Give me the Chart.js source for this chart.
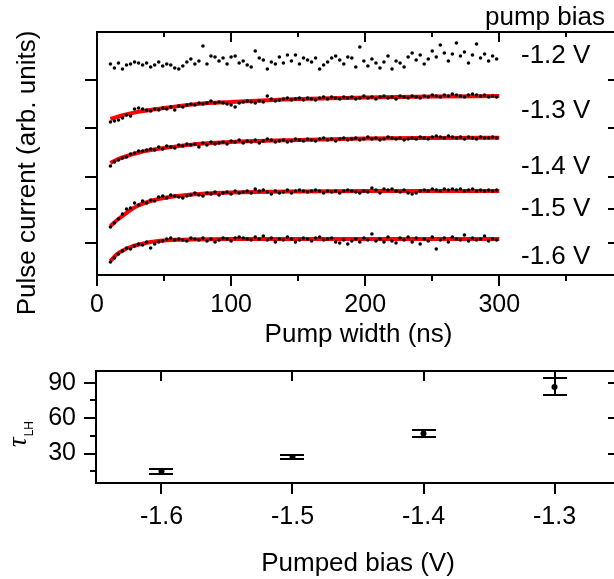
<!DOCTYPE html>
<html>
<head>
<meta charset="utf-8">
<script src="https://cdn.jsdelivr.net/npm/chart.js@4.4.1/dist/chart.umd.min.js"></script>
<style>
  html, body { margin: 0; padding: 0; background: #fff; overflow: hidden; width: 614px; height: 579px; }
  canvas { position: absolute; left: 0; }
  #widthChart { top: 0; }
  #biasChart { top: 350px; }
</style>
</head>
<body>
<canvas id="widthChart" width="640" height="350"></canvas>
<canvas id="biasChart" width="640" height="229"></canvas>
<script>
const FONT = "'Liberation Sans', Arial, sans-serif";

// ---- top panel: pulse current vs pump width (arb. units, offset per bias) ----
const pumpWidth = [
  10, 13, 16, 19, 22, 25, 28, 31, 34, 37,
  40, 43, 46, 49, 52, 55, 58, 61, 64, 67,
  70, 73, 76, 79, 82, 85, 88, 91, 94, 97,
  100, 103, 106, 109, 112, 115, 118, 121, 124, 127,
  130, 133, 136, 139, 142, 145, 148, 151, 154, 157,
  160, 163, 166, 169, 172, 175, 178, 181, 184, 187,
  190, 193, 196, 199, 202, 205, 208, 211, 214, 217,
  220, 223, 226, 229, 232, 235, 238, 241, 244, 247,
  250, 253, 256, 259, 262, 265, 268, 271, 274, 277,
  280, 283, 286, 289, 292, 295, 298
];
const pulse12 = [
  211, 207, 212, 206, 210, 211, 213, 212, 210, 212,
  208, 210, 213, 209, 211, 210, 207, 206, 209, 213,
  216, 211, 214, 229, 211, 219, 218, 214, 217, 211,
  218, 219, 212, 214, 210, 208, 224, 217, 215, 206,
  213, 211, 218, 212, 220, 214, 220, 211, 217, 215,
  213, 217, 206, 210, 213, 217, 219, 215, 211, 218,
  217, 208, 228, 214, 209, 216, 212, 207, 213, 219,
  206, 214, 212, 208, 218, 222, 215, 220, 211, 216,
  224, 218, 230, 222, 214, 221, 232, 219, 223, 212,
  220, 231, 217, 221, 214, 219, 216
];
const pulse13 = [
  153, 154, 155, 157, 160, 159, 166, 167, 166, 165,
  164, 166, 165, 167, 166, 168, 165, 169, 168, 170,
  171, 170, 172, 171, 172, 174, 172, 173, 172, 171,
  170, 168, 172, 173, 174, 173, 172, 174, 173, 179,
  176, 174, 175, 176, 177, 175, 176, 177, 175, 177,
  176, 175, 177, 178, 176, 178, 177, 176, 178, 177,
  178, 176, 177, 179, 177, 178, 176, 178, 179, 177,
  178, 176, 179, 178, 177, 179, 178, 177, 179, 178,
  180, 179, 178, 180, 179, 181, 180, 179, 178, 180,
  181, 180, 179, 180, 178, 179, 178
];
const pulse14 = [
  109, 113, 115, 117, 118, 121, 122, 124, 124, 125,
  126, 125, 128, 126, 129, 128, 127, 130, 129, 131,
  130, 131, 128, 132, 130, 133, 131, 132, 133, 131,
  134, 133, 135, 132, 134, 133, 135, 132, 134, 136,
  135, 133, 134, 135, 133, 134, 136, 135, 134, 136,
  135, 134, 136, 137, 135, 136, 134, 136, 137, 135,
  136, 137, 135, 136, 138, 136, 137, 135, 136, 138,
  137, 136, 137, 135, 136, 137, 136, 138, 137, 136,
  138, 139, 138, 137, 139, 138, 137, 138, 136, 138,
  137, 136, 138, 137, 137, 138, 137
];
const pulse15 = [
  48, 52, 56, 61, 66, 67, 72, 70, 74, 72,
  75, 74, 78, 79, 77, 80, 79, 78, 77, 79,
  80, 82, 80, 79, 82, 81, 83, 80, 82, 83,
  81, 84, 82, 83, 84, 82, 86, 84, 85, 83,
  81, 84, 82, 83, 85, 82, 84, 85, 84, 83,
  84, 85, 84, 82, 84, 83, 84, 82, 84, 85,
  84, 83, 82, 84, 83, 87, 85, 82, 86, 85,
  86, 84, 83, 85, 82, 81, 82, 84, 85, 84,
  86, 85, 84, 86, 85, 86, 85, 86, 84, 85,
  86, 84, 85, 84, 85, 84, 85
];
const pulse16 = [
  13, 17, 21, 24, 27, 26, 29, 31, 30, 33,
  27, 31, 33, 34, 36, 37, 35, 36, 35, 34,
  37, 36, 35, 37, 34, 36, 33, 35, 37, 36,
  34, 37, 38, 37, 36, 35, 38, 36, 39, 35,
  37, 33, 36, 35, 38, 36, 33, 35, 37, 36,
  34, 37, 38, 35, 36, 37, 33, 32, 35, 31,
  34, 36, 33, 37, 35, 41, 34, 36, 33, 38,
  34, 32, 37, 35, 38, 33, 37, 31, 36, 34,
  38, 26, 35, 37, 33, 38, 36, 35, 40, 34,
  37, 35, 36, 39, 34, 36, 35
];

// exponential fits
const fitWidth13 = [10, 20, 30, 50, 75, 100, 150, 200, 250, 300];
const fit13 = [156, 160, 163, 167, 171, 173, 176, 177.5, 178.5, 179];
const fitWidth14 = [10, 15, 20, 30, 40, 50, 75, 100, 150, 200, 250, 300];
const fit14 = [112, 115.5, 118, 122, 125, 127, 131, 133, 135, 136.5, 137, 137.3];
const fitWidth15 = [10, 15, 20, 25, 30, 40, 50, 60, 70, 85, 100, 150, 200, 300];
const fit15 = [49, 55, 60, 65, 69, 74, 77, 79, 80.5, 81.8, 82.5, 83.5, 84, 84];
const fitWidth16 = [10, 15, 20, 25, 30, 40, 50, 60, 70, 100, 150, 300];
const fit16 = [14, 21, 25, 28, 30, 33, 34.5, 35.2, 35.6, 36, 36, 36];

const widthTicks = [0, 50, 100, 150, 200, 250, 300, 350];
const currentTicks = [32, 66, 98, 147, 195];
const biasLabels = ['-1.2 V', '-1.3 V', '-1.4 V', '-1.5 V', '-1.6 V'];

// ---- bottom panel: tau_LH vs pumped bias ----
const pumpedBias = [-1.6, -1.5, -1.4, -1.3];
const tauLH = [15, 27, 47, 86.5];
const tauErr = [2.2, 2, 2.6, 7.2];
const biasTicks = [-1.6, -1.5, -1.4, -1.3];
const tauTicks = [15, 30, 45, 60, 75, 90];

function toXY(xs, ys) {
  return xs.map((x, i) => ({ x: x, y: ys[i] }));
}

// box with mirrored ticks: outward on left/bottom, inward on top/right
function framePlugin(opts) {
  return {
    id: 'frame',
    afterDraw(chart) {
      const { ctx, chartArea: a, scales: { x, y } } = chart;
      ctx.save();
      ctx.strokeStyle = '#000';
      ctx.lineWidth = 2;
      ctx.strokeRect(a.left, a.top, a.right - a.left, a.bottom - a.top);
      ctx.beginPath();
      opts.xTicks.forEach(v => {
        const px = Math.round(x.getPixelForValue(v));
        const out = opts.xMajor(v) ? 11 : 6;
        const inn = opts.xMajor(v) ? 10 : 5;
        ctx.moveTo(px, a.bottom); ctx.lineTo(px, a.bottom + out);
        ctx.moveTo(px, a.top); ctx.lineTo(px, a.top + inn);
      });
      opts.yTicks.forEach(v => {
        const py = Math.round(y.getPixelForValue(v));
        const out = opts.yMajor(v) ? 12 : 6;
        ctx.moveTo(a.left, py); ctx.lineTo(a.left - out, py);
        ctx.moveTo(a.right, py); ctx.lineTo(a.right - out, py);
      });
      ctx.stroke();
      if (opts.extra) opts.extra(ctx, chart);
      ctx.restore();
    }
  };
}

const dotStyle = { pointRadius: 1.8, pointBackgroundColor: '#000', pointBorderWidth: 0, showLine: false };
const fitStyle = { showLine: true, borderColor: '#ff0000', borderWidth: 4, pointRadius: 0, cubicInterpolationMode: 'monotone', fill: false };

new Chart(document.getElementById('widthChart'), {
  type: 'scatter',
  data: {
    datasets: [
      Object.assign({ data: toXY(pumpWidth, pulse12) }, dotStyle),
      Object.assign({ data: toXY(pumpWidth, pulse13) }, dotStyle),
      Object.assign({ data: toXY(pumpWidth, pulse14) }, dotStyle),
      Object.assign({ data: toXY(pumpWidth, pulse15) }, dotStyle),
      Object.assign({ data: toXY(pumpWidth, pulse16) }, dotStyle),
      Object.assign({ data: toXY(fitWidth13, fit13) }, fitStyle),
      Object.assign({ data: toXY(fitWidth14, fit14) }, fitStyle),
      Object.assign({ data: toXY(fitWidth15, fit15) }, fitStyle),
      Object.assign({ data: toXY(fitWidth16, fit16) }, fitStyle)
    ]
  },
  options: {
    responsive: false,
    animation: false,
    events: [],
    layout: { padding: { left: 0, top: 32, right: 20, bottom: 0 } },
    plugins: { legend: { display: false }, tooltip: { enabled: false } },
    scales: {
      x: {
        type: 'linear', min: 0, max: 390,
        grid: { display: false, drawTicks: false },
        border: { display: false },
        afterBuildTicks: s => { s.ticks = widthTicks.map(v => ({ value: v })); },
        afterFit: s => { s.height = 75; s.paddingLeft = 0; s.paddingRight = 0; },
        ticks: {
          autoSkip: false, maxRotation: 0, padding: 15, color: '#000',
          font: { family: FONT, size: 25 },
          callback: v => (v % 100 === 0 ? String(v) : '')
        },
        title: { display: true, text: 'Pump width (ns)', color: '#000', font: { family: FONT, size: 26 }, padding: { top: 0, bottom: 0 } }
      },
      y: {
        type: 'linear', min: 0, max: 243,
        grid: { display: false, drawTicks: false },
        border: { display: false },
        afterBuildTicks: s => { s.ticks = currentTicks.map(v => ({ value: v })); },
        afterFit: s => { s.width = 97; s.paddingTop = 0; s.paddingBottom = 0; },
        ticks: { display: false }
      }
    }
  },
  plugins: [framePlugin({
    xTicks: widthTicks,
    xMajor: v => v % 100 === 0,
    yTicks: currentTicks,
    yMajor: () => true,
    extra(ctx) {
      ctx.fillStyle = '#000';
      ctx.font = '26px ' + FONT;
      ctx.textAlign = 'left';
      ctx.textBaseline = 'alphabetic';
      ctx.fillText('pump bias', 485, 25);
      const labelBase = [63, 118, 174, 216, 264];
      biasLabels.forEach((t, i) => ctx.fillText(t, 521, labelBase[i]));
      ctx.translate(28, 173);
      ctx.rotate(-Math.PI / 2);
      ctx.textAlign = 'center';
      ctx.textBaseline = 'middle';
      ctx.fillText('Pulse current (arb. units)', 0, 0);
    }
  })]
});

const errorBars = {
  id: 'errorBars',
  afterDatasetsDraw(chart) {
    const { ctx, scales: { x, y } } = chart;
    ctx.save();
    ctx.strokeStyle = '#000';
    ctx.lineWidth = 2;
    pumpedBias.forEach((b, i) => {
      const px = Math.round(x.getPixelForValue(b));
      const top = Math.round(y.getPixelForValue(tauLH[i] + tauErr[i]));
      const bot = Math.round(y.getPixelForValue(tauLH[i] - tauErr[i]));
      ctx.beginPath();
      ctx.moveTo(px, top); ctx.lineTo(px, bot);
      ctx.moveTo(px - 12, top); ctx.lineTo(px + 12, top);
      ctx.moveTo(px - 12, bot); ctx.lineTo(px + 12, bot);
      ctx.stroke();
    });
    ctx.restore();
  }
};

new Chart(document.getElementById('biasChart'), {
  type: 'scatter',
  data: {
    datasets: [{
      data: toXY(pumpedBias, tauLH),
      pointRadius: 3, pointBackgroundColor: '#000', pointBorderWidth: 0
    }]
  },
  options: {
    responsive: false,
    animation: false,
    events: [],
    layout: { padding: { left: 0, top: 21, right: 20, bottom: 0 } },
    plugins: { legend: { display: false }, tooltip: { enabled: false } },
    scales: {
      x: {
        type: 'linear', min: -1.65, max: -1.25,
        grid: { display: false, drawTicks: false },
        border: { display: false },
        afterBuildTicks: s => { s.ticks = biasTicks.map(v => ({ value: v })); },
        afterFit: s => { s.height = 96; s.paddingLeft = 0; s.paddingRight = 0; },
        ticks: {
          autoSkip: false, maxRotation: 0, padding: 19, color: '#000',
          font: { family: FONT, size: 25 },
          callback: v => v.toFixed(1)
        },
        title: { display: true, text: 'Pumped bias (V)', color: '#000', font: { family: FONT, size: 26 }, padding: { top: 0, bottom: 0 } }
      },
      y: {
        type: 'linear', min: 5, max: 100,
        grid: { display: false, drawTicks: false },
        border: { display: false },
        afterBuildTicks: s => { s.ticks = tauTicks.map(v => ({ value: v })); },
        afterFit: s => { s.width = 96; s.paddingTop = 0; s.paddingBottom = 0; },
        ticks: {
          autoSkip: false, padding: 20, color: '#000',
          font: { family: FONT, size: 25 },
          callback: v => (v % 30 === 0 ? String(v) : '')
        }
      }
    }
  },
  plugins: [errorBars, framePlugin({
    xTicks: biasTicks,
    xMajor: () => true,
    yTicks: tauTicks,
    yMajor: v => v % 30 === 0,
    extra(ctx) {
      ctx.fillStyle = '#000';
      ctx.translate(26, 97);
      ctx.rotate(-Math.PI / 2);
      ctx.textAlign = 'left';
      ctx.textBaseline = 'alphabetic';
      ctx.font = 'italic 27px "Liberation Serif", serif';
      ctx.fillText('τ', 0, 0);
      const w = ctx.measureText('τ').width;
      ctx.font = '12px ' + FONT;
      ctx.fillText('LH', w + 1, 7);
    }
  })]
});
</script>
</body>
</html>
